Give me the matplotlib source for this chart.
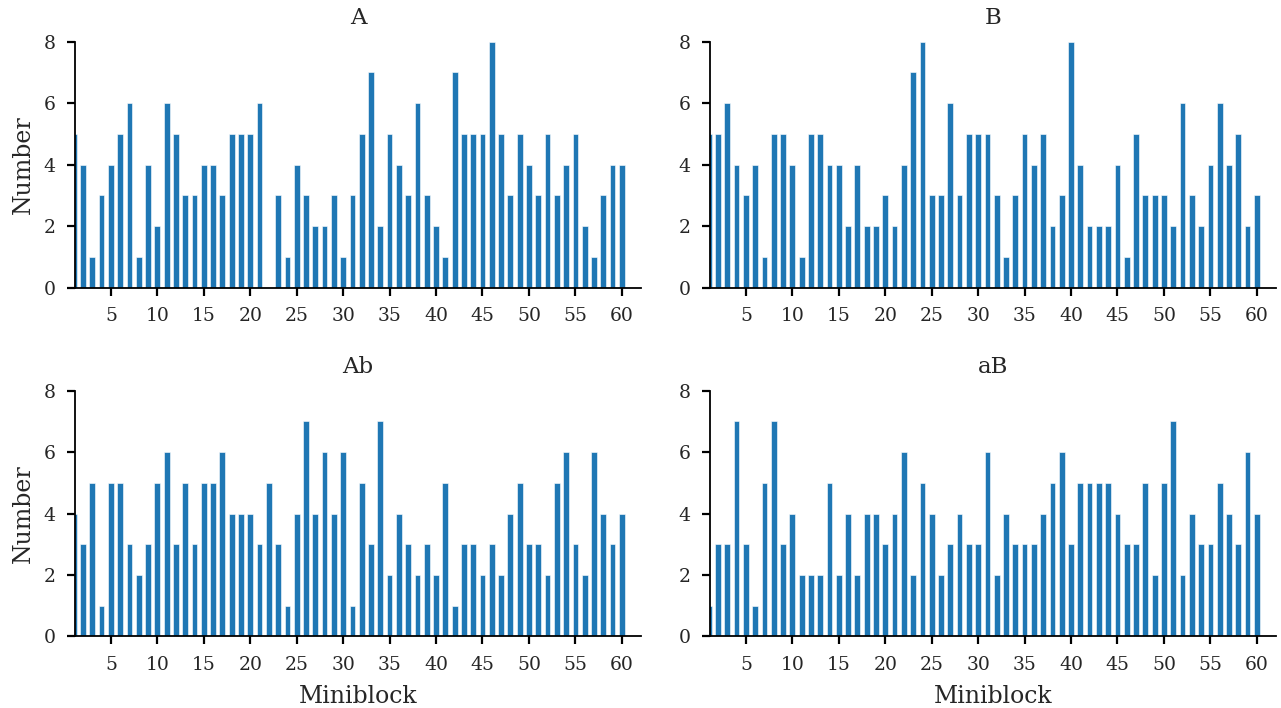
import matplotlib
matplotlib.use('Agg')
import matplotlib.pyplot as plt

plt.rcParams['font.family'] = ['DejaVu Serif']

miniblocks = list(range(1, 61))

# counts per miniblock
A = [5, 4, 1, 3, 4, 5, 6, 1, 4, 2, 6, 5, 3, 3, 4, 4, 3, 5, 5, 5,
     6, 0, 3, 1, 4, 3, 2, 2, 3, 1, 3, 5, 7, 2, 5, 4, 3, 6, 3, 2,
     1, 7, 5, 5, 5, 8, 5, 3, 5, 4, 3, 5, 3, 4, 5, 2, 1, 3, 4, 4]
B = [5, 5, 6, 4, 3, 4, 1, 5, 5, 4, 1, 5, 5, 4, 4, 2, 4, 2, 2, 3,
     2, 4, 7, 8, 3, 3, 6, 3, 5, 5, 5, 3, 1, 3, 5, 4, 5, 2, 3, 8,
     4, 2, 2, 2, 4, 1, 5, 3, 3, 3, 2, 6, 3, 2, 4, 6, 4, 5, 2, 3]
Ab = [4, 3, 5, 1, 5, 5, 3, 2, 3, 5, 6, 3, 5, 3, 5, 5, 6, 4, 4, 4,
      3, 5, 3, 1, 4, 7, 4, 6, 4, 6, 1, 5, 3, 7, 2, 4, 3, 2, 3, 2,
      5, 1, 3, 3, 2, 3, 2, 4, 5, 3, 3, 2, 5, 6, 3, 2, 6, 4, 3, 4]
aB = [1, 3, 3, 7, 3, 1, 5, 7, 3, 4, 2, 2, 2, 5, 2, 4, 2, 4, 4, 3,
      4, 6, 2, 5, 4, 2, 3, 4, 3, 3, 6, 2, 4, 3, 3, 3, 4, 5, 6, 3,
      5, 5, 5, 5, 4, 3, 3, 5, 2, 5, 7, 2, 4, 3, 3, 5, 4, 3, 6, 4]

panels = [('A', A), ('B', B), ('Ab', Ab), ('aB', aB)]

fig, axes = plt.subplots(2, 2, figsize=(12.81, 7.08), dpi=100)
plt.subplots_adjust(left=0.0585, right=0.996, top=0.941, bottom=0.101,
                    wspace=0.122, hspace=0.42)

for ax, (name, vals) in zip(axes.flat, panels):
    ax.bar(miniblocks, vals, width=0.62, color='#1f77b4',
           edgecolor='white', linewidth=0.4)
    ax.set_title(name, fontsize=16.5, pad=13, color='#262626')
    ax.set_xlim(1.13, 62.05)
    ax.set_ylim(0, 8)
    ax.set_xticks(range(5, 61, 5))
    ax.set_yticks([0, 2, 4, 6, 8])
    ax.spines['top'].set_visible(False)
    ax.spines['right'].set_visible(False)
    ax.tick_params(labelsize=13.5, width=1.6, length=6, pad=8,
                   labelcolor='#262626')
    for s in ['left', 'bottom']:
        ax.spines[s].set_linewidth(1.3)

for ax in axes[:, 0]:
    ax.set_ylabel('Number', fontsize=17, labelpad=6, color='#262626')
for ax in axes[1, :]:
    ax.set_xlabel('Miniblock', fontsize=17, labelpad=8, color='#262626')

plt.savefig('out.png', dpi=100)
